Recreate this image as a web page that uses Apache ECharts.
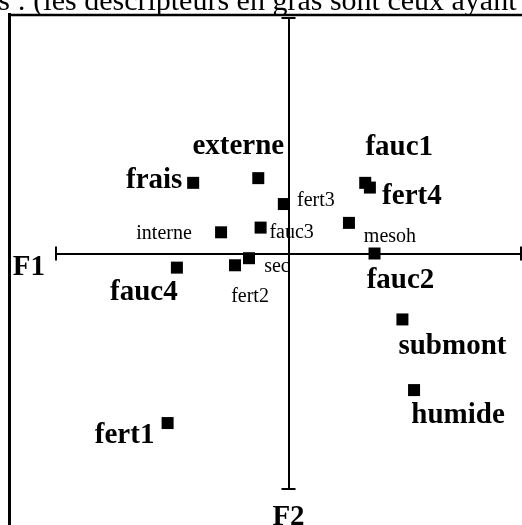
<!DOCTYPE html>
<html>
<head>
<meta charset="utf-8">
<script src="https://cdn.jsdelivr.net/npm/echarts@6/dist/echarts.min.js"></script>
<style>
  html, body { margin: 0; padding: 0; background: #fff; }
  #chart { width: 522px; height: 525px; }
</style>
</head>
<body>
<div id="chart"></div>
<script>
// descripteurs on the F1 x F2 plane
var names = ['externe', 'frais', 'fert3', 'fauc1', 'fert4', 'mesoh', 'interne', 'fauc3',
  'sec', 'fert2', 'fauc4', 'fauc2', 'submont', 'humide', 'fert1']
var f1 = [-0.13, -0.41, -0.02, 0.33, 0.35, 0.26, -0.29, -0.12,
  -0.17, -0.23, -0.48, 0.37, 0.49, 0.54, -0.52]
var f2 = [0.32, 0.30, 0.21, 0.30, 0.28, 0.13, 0.09, 0.11,
  -0.02, -0.05, -0.06, 0.00, -0.28, -0.58, -0.72]
// descripteurs en gras
var boldNames = ['externe', 'frais', 'fauc1', 'fert4', 'fauc4', 'fauc2', 'submont', 'humide', 'fert1']

// where each label sits relative to its marker (px)
var labelOffset = {
  externe: [-20, -32], frais: [-39, -2], fert3: [32, -3], fauc1: [34, -35],
  fert4: [42, 9], mesoh: [41, 14], interne: [-57, 1], fauc3: [31, 5],
  sec: [28, 9], fert2: [15, 31], fauc4: [-33, 25], fauc2: [26, 27],
  submont: [50, 27], humide: [44, 25], fert1: [-43, 12]
}

var serif = 'Liberation Serif'
var chart = echarts.init(document.getElementById('chart'))

var points = names.map(function (n, i) {
  var isBold = boldNames.indexOf(n) >= 0
  return {
    name: n,
    value: [f1[i], f2[i]],
    label: {
      offset: labelOffset[n],
      fontWeight: isBold ? 'bold' : 'normal',
      fontSize: isBold ? 29 : 20
    }
  }
})

function axisBase (extra) {
  var a = {
    type: 'value',
    min: -1,
    max: 1,
    splitLine: { show: false },
    axisLabel: { show: false },
    axisLine: { onZero: true, lineStyle: { color: '#000', width: 2 } },
    axisTick: { show: true, inside: true, length: 7, customValues: [-1, 1], lineStyle: { color: '#000', width: 2 } }
  }
  return Object.assign(a, extra)
}

var nameStyle = { fontFamily: serif, fontWeight: 'bold', fontSize: 29, color: '#000' }

chart.setOption({
  animation: false,
  backgroundColor: '#fff',
  title: {
    text: 'es : (les descripteurs en gras sont ceux ayant',
    left: -15,
    top: -13,
    padding: 0,
    textStyle: { fontFamily: serif, fontWeight: 'normal', fontSize: 30, color: '#000' }
  },
  grid: { left: 56, right: 1, top: 18, bottom: 36, outerBoundsMode: 'none' },
  xAxis: [
    axisBase({ position: 'bottom', name: 'F1', nameLocation: 'start', nameGap: 11,
      nameTextStyle: Object.assign({ verticalAlign: 'top' }, nameStyle) }),
    axisBase({ position: 'top' })
  ],
  yAxis: [
    axisBase({ position: 'left', name: 'F2', nameLocation: 'start', nameGap: 14,
      nameTextStyle: nameStyle }),
    axisBase({ position: 'right' })
  ],
  graphic: [
    { type: 'line', shape: { x1: 9.5, y1: 13, x2: 9.5, y2: 525 }, style: { stroke: '#000', lineWidth: 3 } },
    { type: 'line', shape: { x1: 8, y1: 15, x2: 522, y2: 15 }, style: { stroke: '#000', lineWidth: 2.5 } }
  ],
  series: [
    {
      type: 'scatter',
      xAxisIndex: 0,
      yAxisIndex: 0,
      symbol: 'rect',
      symbolSize: 12,
      itemStyle: { color: '#000', opacity: 1 },
      label: {
        show: true,
        position: 'inside',
        formatter: '{b}',
        color: '#000',
        fontFamily: serif
      },
      data: points
    }
  ]
})
</script>
</body>
</html>
